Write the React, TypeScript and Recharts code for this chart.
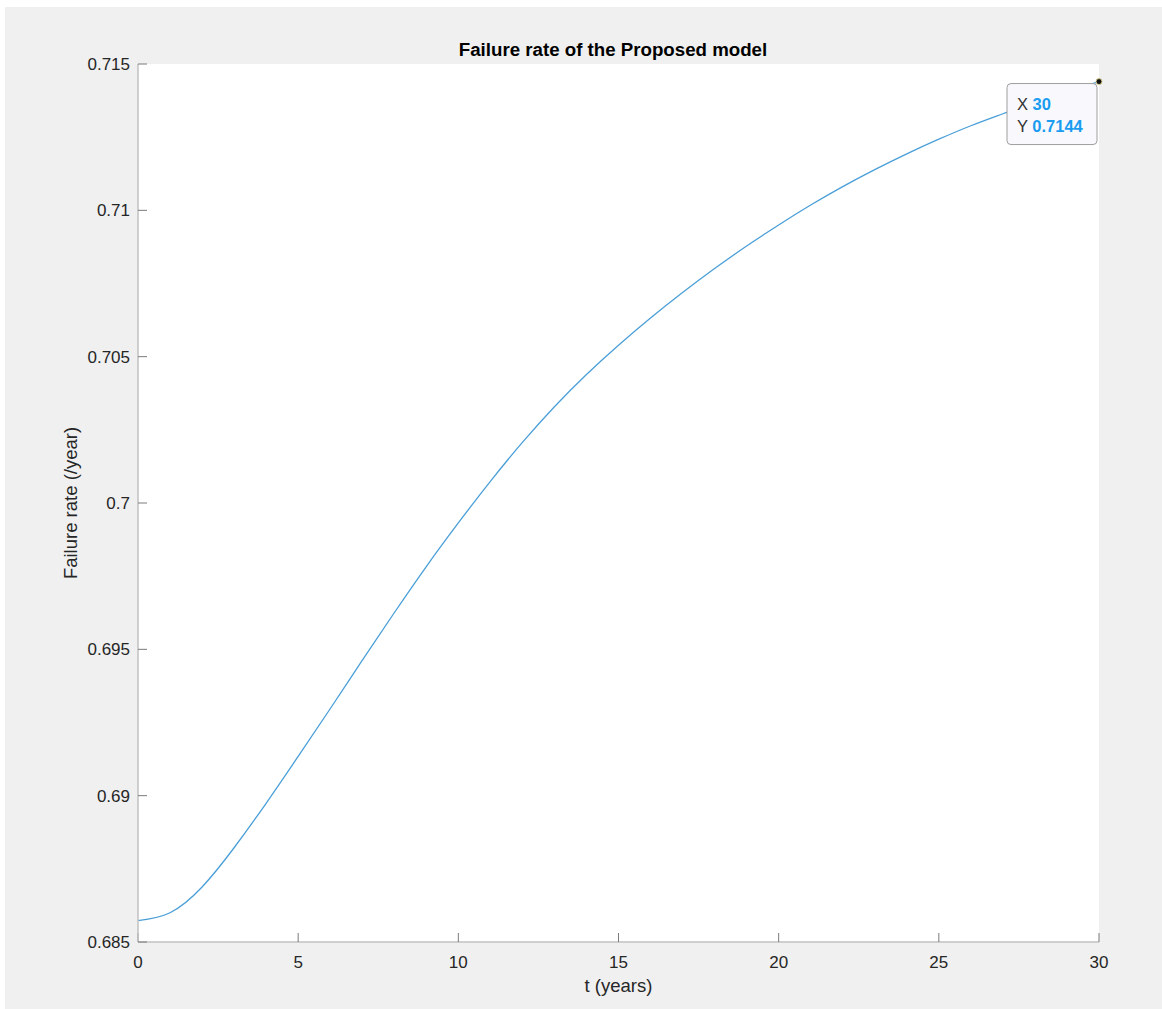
import React from "react";
import {
  LineChart,
  Line,
  XAxis,
  YAxis,
  CartesianGrid,
  ReferenceDot,
} from "recharts";

// failure rate, one point per year
const years = [
  0, 1, 2, 3, 4, 5, 6, 7, 8, 9, 10, 11, 12, 13, 14, 15, 16, 17, 18, 19, 20,
  21, 22, 23, 24, 25, 26, 27, 28, 29, 30,
];
const failureRate = [
  0.68573, 0.686, 0.68688, 0.68822, 0.68974, 0.69134, 0.69297, 0.69462,
  0.69625, 0.69783, 0.69932, 0.70074, 0.70207, 0.70329, 0.70439, 0.70539,
  0.70632, 0.70719, 0.70801, 0.70878, 0.7095, 0.71018, 0.71081, 0.71139,
  0.71193, 0.71243, 0.71289, 0.7133, 0.7137, 0.71406, 0.7144,
];

const xTicks = [0, 5, 10, 15, 20, 25, 30];
const yTicks = [0.685, 0.69, 0.695, 0.7, 0.705, 0.71, 0.715];

// the data tip pinned on the last point
const tipX = 30;
const tipY = 0.7144;

const chartData = years.map((t, i) => ({ t, rate: failureRate[i] }));

const FONT = "'Liberation Sans', Arial, Helvetica, sans-serif";
const LINE_COLOR = "#4a9fd8";

const DataTip = (props: any) => {
  const { cx, cy } = props;
  if (cx == null || cy == null) return null;
  return (
    <g fontFamily={FONT} fontSize={16.5}>
      <rect
        x={cx - 92}
        y={cy + 2}
        width={90}
        height={61}
        rx={4}
        fill="#f9f9fd"
        stroke="#9e9e9e"
        strokeWidth={1}
      />
      <text x={cx - 82} y={cy + 28}>
        <tspan fill="#333333">X </tspan>
        <tspan fill="#1a9cf0" fontWeight="bold">
          {tipX}
        </tspan>
      </text>
      <text x={cx - 82} y={cy + 50}>
        <tspan fill="#333333">Y </tspan>
        <tspan fill="#1a9cf0" fontWeight="bold">
          {tipY}
        </tspan>
      </text>
      <circle cx={cx} cy={cy} r={3} fill="#111111" stroke="#d8d090" strokeWidth={1} />
    </g>
  );
};

const fmtY = (v: number) => String(Number(v.toFixed(3)));

export default function App() {
  return (
    <div
      style={{
        position: "absolute",
        left: 0,
        top: 0,
        width: 1162,
        height: 1009,
        background: "#ffffff",
        overflow: "hidden",
      }}
    >
      <div
        style={{
          position: "absolute",
          left: 5,
          top: 7,
          right: 0,
          bottom: 0,
          background: "#f0f0f0",
        }}
      />
      <div style={{ position: "absolute", left: 0, top: 0 }}>
        <LineChart
          width={1162}
          height={1009}
          data={chartData}
          margin={{ top: 64, right: 63, left: 78, bottom: 37 }}
        >
          <CartesianGrid
            fill="#ffffff"
            stroke="none"
            horizontal={false}
            vertical={false}
          />
          <XAxis
            dataKey="t"
            type="number"
            domain={[0, 30]}
            ticks={xTicks}
            height={30}
            tickSize={-9}
            tickMargin={23}
            axisLine={{ stroke: "#c2c2c2", strokeWidth: 1.5 }}
            tickLine={{ stroke: "#7a7a7a" }}
            tick={{ fill: "#262626", fontSize: 17, fontFamily: FONT }}
            interval={0}
            label={{
              value: "t (years)",
              position: "bottom",
              offset: 7,
              fill: "#262626",
              fontSize: 18.5,
              fontFamily: FONT,
            }}
          />
          <YAxis
            type="number"
            domain={[0.685, 0.715]}
            ticks={yTicks}
            width={60}
            tickSize={-9}
            tickMargin={17}
            allowDataOverflow
            axisLine={{ stroke: "#c2c2c2", strokeWidth: 1.5 }}
            tickLine={{ stroke: "#7a7a7a" }}
            tick={{ fill: "#262626", fontSize: 17, fontFamily: FONT }}
            tickFormatter={fmtY}
            interval={0}
            label={{
              value: "Failure rate (/year)",
              angle: -90,
              position: "insideLeft",
              offset: -7.5,
              fill: "#262626",
              fontSize: 18.5,
              fontFamily: FONT,
              style: { textAnchor: "middle" },
            }}
          />
          <Line
            type="natural"
            dataKey="rate"
            stroke={LINE_COLOR}
            strokeWidth={1.3}
            dot={false}
            activeDot={false}
            isAnimationActive={false}
          />
          <ReferenceDot
            x={tipX}
            y={tipY}
            r={3}
            ifOverflow="visible"
            shape={<DataTip />}
          />
          <text
            x={613}
            y={56}
            textAnchor="middle"
            fontFamily={FONT}
            fontSize={18.7}
            fontWeight="bold"
            fill="#000000"
          >
            Failure rate of the Proposed model
          </text>
        </LineChart>
      </div>
    </div>
  );
}
